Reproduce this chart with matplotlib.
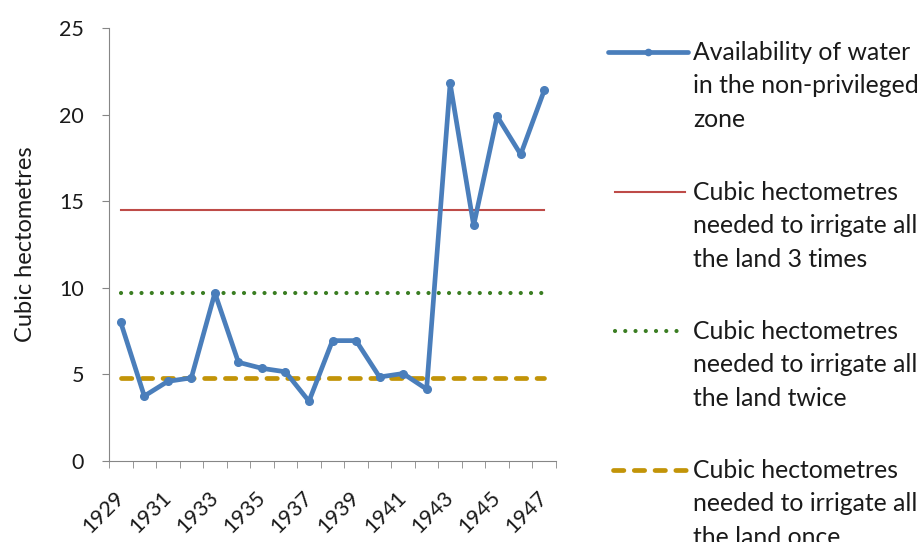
import matplotlib
matplotlib.use("Agg")
import matplotlib.pyplot as plt
from matplotlib.lines import Line2D
import numpy as np

years = list(range(1929, 1948))
availability = [8.0, 3.75, 4.6, 4.8, 9.7, 5.7, 5.35, 5.15, 3.45, 6.95, 6.95, 4.85, 5.05, 4.15,
                21.8, 13.6, 19.9, 17.7, 21.4]
need_three_times = 14.5
need_twice = 9.7
need_once = 4.8

labels = ["Availability of water\nin the non-privileged\nzone",
          "Cubic hectometres\nneeded to irrigate all\nthe land 3 times",
          "Cubic hectometres\nneeded to irrigate all\nthe land twice",
          "Cubic hectometres\nneeded to irrigate all\nthe land once"]
ylabel = "Cubic hectometres"

plt.rcParams['font.family'] = ['Lato', 'DejaVu Sans']
TXT = '#1a1a1a'
W, H = 921, 542

fig = plt.figure(figsize=(W/100, H/100), dpi=100)
ax = fig.add_axes([109/W, 1-461/H, (556-109)/W, (461-28)/H])

styles = [
    dict(color='#4A7EBB', lw=3.4, marker='o', ms=5.5, solid_joinstyle='round',
         solid_capstyle='round'),
    dict(color='#BE4B48', lw=1.5),
    dict(color='#3A7D22', lw=3.0, linestyle=(0, (0.01, 2.45)), dash_capstyle='round'),
    dict(color='#C29408', lw=3.4, linestyle=(0, (2.2, 2.2)), dash_capstyle='round'),
]

x = np.arange(len(years))
ax.plot(x, availability, zorder=5, **styles[0])
ax.plot(x, [need_three_times]*len(x), zorder=3, **styles[1])
ax.plot(x, [need_twice]*len(x), zorder=3, **styles[2])
ax.plot(x, [need_once]*len(x), zorder=3, **styles[3])

ax.set_xlim(-0.5, len(years)-0.5)
ax.set_ylim(0, 25)
ax.set_yticks([0, 5, 10, 15, 20, 25])
ax.set_xticks(x[::2])
ax.set_xticklabels([str(y) for y in years[::2]], rotation=45, ha='right', va='center',
                   rotation_mode='anchor', fontsize=15.5, color=TXT)
ax.set_xticks(np.arange(-0.5, len(years), 1), minor=True)
ax.tick_params(axis='x', which='major', length=0, pad=24)
ax.tick_params(axis='x', which='minor', length=5, color='#868686', direction='out')
ax.tick_params(axis='y', length=5, color='#868686', labelsize=15.5, labelcolor=TXT, pad=13)
for s in ['top', 'right']:
    ax.spines[s].set_visible(False)
for s in ['left', 'bottom']:
    ax.spines[s].set_color('#868686')
ax.set_ylabel(ylabel, fontsize=17, color=TXT, labelpad=17)

# manual legend (handle aligned with first text line, as in the original)
entry_y = [52, 192, 331, 470]
handle_x = [(608, 688), (615, 685), (615, 682), (613, 688)]
for lab, st, yy, (x0, x1) in zip(labels, styles, entry_y, handle_x):
    st2 = dict(st)
    if 'marker' in st2:
        ln = Line2D([x0/W, x1/W], [1-yy/H, 1-yy/H], transform=fig.transFigure,
                    markevery=[], **st2)
        fig.add_artist(ln)
        fig.add_artist(Line2D([(x0+x1)/2/W], [1-yy/H], transform=fig.transFigure,
                              linestyle='none', marker='o', ms=4.5, color=st['color']))
    else:
        fig.add_artist(Line2D([x0/W, x1/W], [1-yy/H, 1-yy/H], transform=fig.transFigure, **st2))
    fig.text(693/W, 1-(yy-11)/H, lab, fontsize=17.8, color=TXT, va='top', ha='left',
             linespacing=1.54)

fig.savefig("out.png", dpi=100)
